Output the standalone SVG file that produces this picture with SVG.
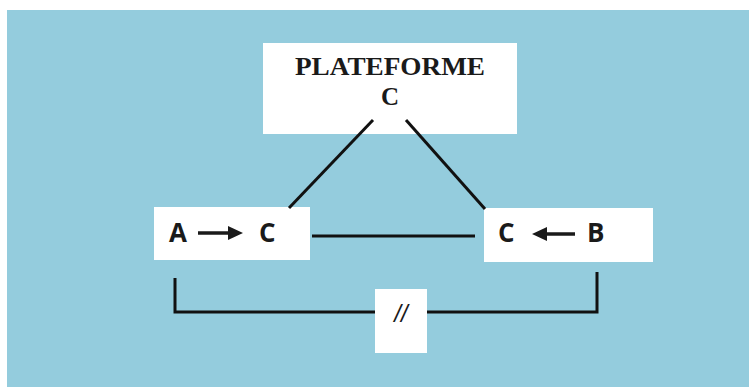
<svg xmlns="http://www.w3.org/2000/svg" width="749" height="387" viewBox="0 0 749 387">
<defs>
<style>
.box{fill:#ffffff}
.ln{stroke:#111;stroke-width:3;fill:none}
.sans{font-family:"Open Sans","DejaVu Sans",sans-serif;font-weight:bold;font-size:26px;fill:#1a1a1a}
.serif{font-family:"Liberation Serif","DejaVu Serif",serif;font-weight:bold;font-size:25px;fill:#1a1a1a}
.head{fill:#1a1a1a}
</style>
</defs>
<rect x="0" y="0" width="749" height="387" fill="#ffffff"/>
<rect x="7" y="10" width="742" height="377" fill="#94ccdd"/>
<g id="plateforme">
<rect class="box" x="263" y="43" width="254" height="91"/>
<text class="serif" x="295" y="75" textLength="190" lengthAdjust="spacingAndGlyphs">PLATEFORME</text>
<text class="serif" x="390" y="105" text-anchor="middle">C</text>
</g>
<g id="ac">
<rect class="box" x="154" y="207" width="156" height="53"/>
<text class="sans" x="169" y="242">A</text>
<line x1="198" y1="233" x2="230" y2="233" stroke="#1a1a1a" stroke-width="3.5"/>
<path class="head" d="M243,233 L228,226 L228,240 Z"/>
<text class="sans" x="259" y="242">C</text>
</g>
<g id="cb">
<rect class="box" x="484" y="208" width="169" height="54"/>
<text class="sans" x="498" y="242">C</text>
<line x1="575" y1="234" x2="545" y2="234" stroke="#1a1a1a" stroke-width="3.5"/>
<path class="head" d="M532,234 L547,227 L547,241 Z"/>
<text class="sans" x="587" y="242">B</text>
</g>
<g id="parallel">
<rect class="box" x="375" y="289" width="52" height="64"/>
<text x="401" y="322" text-anchor="middle" font-family="Liberation Sans, sans-serif" font-style="italic" font-size="24" fill="#1a1a1a">//</text>
</g>
<g id="connectors">
<line class="ln" x1="373" y1="120" x2="289" y2="208"/>
<line class="ln" x1="406" y1="120" x2="485" y2="209"/>
<line class="ln" x1="312" y1="236" x2="475" y2="236"/>
<path class="ln" d="M175,278 L175,312 L375,312 M427,312 L597,312 L597,272"/>
</g>
</svg>
